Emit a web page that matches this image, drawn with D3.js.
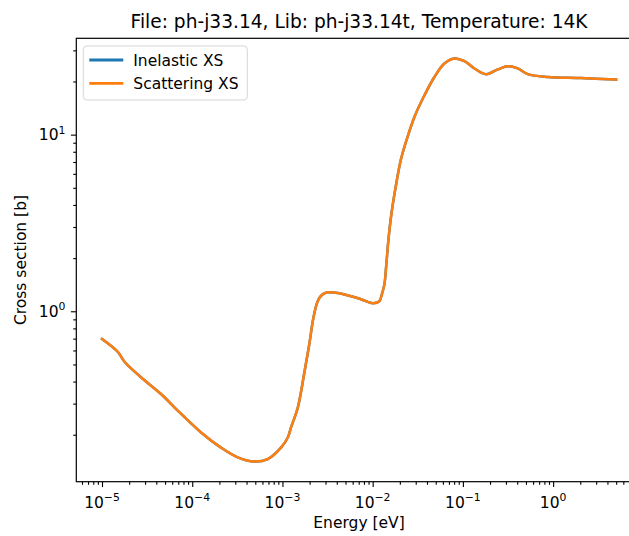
<!DOCTYPE html>
<html><head><meta charset="utf-8">
<script src="https://cdn.jsdelivr.net/npm/d3@7"></script>
<style>body{margin:0;background:#fff;overflow:hidden}svg{display:block}text{font-family:"DejaVu Sans",sans-serif;fill:#000}</style>
</head><body>
<script>
const title = "File: ph-j33.14, Lib: ph-j33.14t, Temperature: 14K";
const xLabel = "Energy [eV]";
const yLabel = "Cross section [b]";
const seriesNames = ["Inelastic XS", "Scattering XS"];
const seriesColors = ["#1f77b4", "#ff7f0e"];
const energy = [1e-5,1.493e-5,1.766e-5,2.704e-5,4.508e-5,6.902e-5,1.253e-4,2.084e-4,3.192e-4,4.887e-4,6.871e-4,9.638e-4,1.146e-3,1.245e-3,1.479e-3,1.750e-3,1.986e-3,2.188e-3,2.399e-3,2.564e-3,2.818e-3,3.177e-3,4.102e-3,5.623e-3,7.430e-3,1.0e-2,1.186e-2,1.259e-2,1.349e-2,1.409e-2,1.493e-2,1.600e-2,1.816e-2,2.065e-2,2.449e-2,2.904e-2,3.750e-2,4.831e-2,6.237e-2,8.054e-2,0.1040,0.1343,0.1811,0.2438,0.3148,0.4064,0.5236,0.8730,2.042,4.989];
const inelasticXS = [0.697,0.59,0.52,0.423,0.340,0.274,0.206,0.169,0.149,0.141,0.1456,0.169,0.193,0.220,0.285,0.45,0.653,0.90,1.10,1.19,1.25,1.28,1.27,1.22,1.17,1.11,1.14,1.24,1.42,1.78,2.52,3.45,5.2,7.3,9.8,12.6,16.7,21.2,25.3,27.0,26.1,23.7,22.0,23.4,24.4,23.7,22.0,21.2,20.9,20.5];
const scatteringXS = inelasticXS.slice();
const xMajorTicks = [1e-5,1e-4,1e-3,1e-2,1e-1,1e0];
const xTickExp = ["−5","−4","−3","−2","−1","0"];
const yMajorTicks = [1e0,1e1];
const yTickExp = ["0","1"];

const W = 629, H = 536;
const L = 76.3, T = 38.3, B = 481.7, R = 641.8;
const svg = d3.select("body").append("svg").attr("width", W).attr("height", H);

function logDomain(v){
  const lo = Math.log10(d3.min(v)), hi = Math.log10(d3.max(v)), m = (hi-lo)*0.05;
  return [Math.pow(10, lo-m), Math.pow(10, hi+m)];
}
const x = d3.scaleLog().domain(logDomain(energy)).range([L, R]);
const y = d3.scaleLog().domain(logDomain(inelasticXS.concat(scatteringXS))).range([B, T]);

function minorTicks(dom){
  const out = [];
  for (let e = Math.floor(Math.log10(dom[0])); e <= Math.ceil(Math.log10(dom[1])); e++)
    for (let k = 2; k <= 9; k++){ const v = k*Math.pow(10,e); if (v >= dom[0] && v <= dom[1]) out.push(v); }
  return out;
}
const fs = 15.5;
// x axis
const xa = svg.append("g").attr("transform", `translate(0,${B})`);
xa.call(d3.axisBottom(x).tickValues(minorTicks(x.domain())).tickSize(3.1).tickFormat(""));
xa.append("g").call(d3.axisBottom(x).tickValues(xMajorTicks).tickSize(5.4).tickFormat(""));
xa.selectAll(".domain").remove();
xa.selectAll("line").attr("stroke", "#000").attr("stroke-width", 1.1);
xMajorTicks.forEach((v,i) => {
  const t = svg.append("text").attr("x", x(v)).attr("y", B+26).attr("text-anchor","middle").attr("font-size", fs);
  t.append("tspan").text("10");
  t.append("tspan").attr("dy", -6.5).attr("font-size", fs*0.7).text(xTickExp[i]);
});
// y axis
const ya = svg.append("g").attr("transform", `translate(${L},0)`);
ya.call(d3.axisLeft(y).tickValues(minorTicks(y.domain())).tickSize(3.1).tickFormat(""));
ya.append("g").call(d3.axisLeft(y).tickValues(yMajorTicks).tickSize(5.4).tickFormat(""));
ya.selectAll(".domain").remove();
ya.selectAll("line").attr("stroke", "#000").attr("stroke-width", 1.1);
yMajorTicks.forEach((v,i) => {
  const t = svg.append("text").attr("x", L-10.8).attr("y", y(v)+5.6).attr("text-anchor","end").attr("font-size", fs);
  t.append("tspan").text("10");
  t.append("tspan").attr("dy", -6.5).attr("font-size", fs*0.7).text(yTickExp[i]);
});
// lines
svg.append("clipPath").attr("id","c").append("rect").attr("x",L).attr("y",T).attr("width",R-L).attr("height",B-T);
const line = d3.line().x(d => x(d[0])).y(d => y(d[1])).curve(d3.curveCatmullRom.alpha(0.5));
[inelasticXS, scatteringXS].forEach((s,i) => {
  svg.append("path").attr("clip-path","url(#c)").datum(energy.map((e,j)=>[e,s[j]])).attr("d", line)
    .attr("fill","none").attr("stroke", seriesColors[i]).attr("stroke-width", 2.5).attr("stroke-linejoin","round").attr("stroke-linecap","square");
});
// spines
svg.append("rect").attr("x",L).attr("y",T).attr("width",R-L).attr("height",B-T).attr("fill","none").attr("stroke","#000").attr("stroke-width",1.2);
// title & labels
svg.append("text").attr("x",(L+R)/2).attr("y",T-10).attr("text-anchor","middle").attr("font-size",18.6).text(title);
svg.append("text").attr("x",(L+R)/2).attr("y",B+46).attr("text-anchor","middle").attr("font-size",fs).text(xLabel);
svg.append("text").attr("transform",`translate(26,${(T+B)/2}) rotate(-90)`).attr("text-anchor","middle").attr("font-size",fs).text(yLabel);
// legend
const lg = svg.append("g");
lg.append("rect").attr("x",83.3).attr("y",46).attr("width",164).attr("height",54).attr("rx",3.5)
  .attr("fill","#fff").attr("fill-opacity",0.8).attr("stroke","#d5d5d5").attr("stroke-width",1);
seriesNames.forEach((n,i) => {
  const yy = 60 + i*23.3;
  lg.append("line").attr("x1",89.3).attr("x2",123.3).attr("y1",yy).attr("y2",yy).attr("stroke",seriesColors[i]).attr("stroke-width",2.8);
  lg.append("text").attr("x",133.3).attr("y",yy+5.6).attr("font-size",fs).text(n);
});
</script>
</body></html>
